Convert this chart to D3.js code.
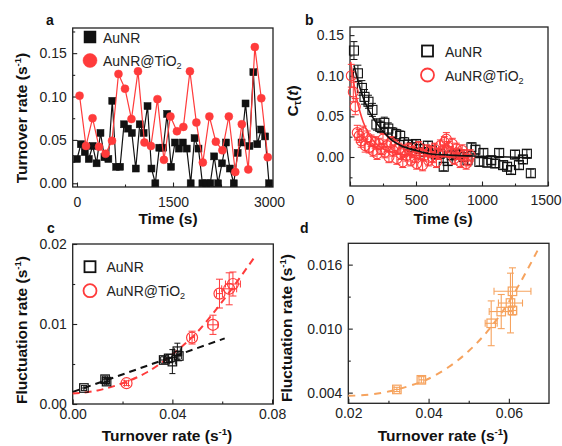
<!DOCTYPE html>
<html lang="en">
<head>
<meta charset="UTF-8">
<title>Turnover and fluctuation rates</title>
<script src="https://d3js.org/d3.v7.min.js"></script>
<style>
    body, html { margin: 0; padding: 0; background: #fff; }
    svg { display: block; font-family: 'Liberation Sans', Arial, sans-serif; }
    .tick text { font-size: 14px; fill: #222; }
    .tick line { stroke: #222; stroke-width: 1.1; }
</style>
</head>
<body>
<div id="chart"></div>
<script>
    // ---- panel a: turnover trajectories ----
    const aTimeAu = [0, 61, 122, 184, 245, 306, 367, 429, 490, 551, 612, 673, 735, 796, 857, 918, 980, 1041, 1102, 1163,
        1224, 1286, 1347, 1408, 1469, 1531, 1592, 1653, 1714, 1776, 1837, 1898, 1959, 2020, 2082, 2143, 2204, 2265, 2327, 2388,
        2449, 2510, 2571, 2633, 2694, 2755, 2816, 2878, 2939, 3000]
    const aRateAu = [0.028, 0.045, 0.036, 0.028, 0.043, 0.023, 0.058, 0.030, 0.028, 0.095,
        0.019, 0.019, 0.068, 0.063, 0.058, 0.017, 0.068, 0.058, 0.089, 0.017,
        0.000, 0.041, 0.041, 0.080, 0.019, 0.047, 0.040, 0.047, 0.040, 0.000,
        0.052, 0.040, 0.000, 0.000, 0.000, 0.031, 0.000, 0.023, 0.047, 0.017,
        0.000, 0.035, 0.047, 0.092, 0.043, 0.128, 0.045, 0.062, 0.054, 0.000]
    const aTimeTi = [40, 141, 243, 344, 446, 547, 648, 750, 851, 953, 1054, 1155, 1257, 1358, 1460,
        1561, 1662, 1764, 1865, 1966, 2068, 2169, 2271, 2372, 2473, 2575, 2676, 2778, 2879, 2980]
    const aRateTi = [0.101, 0.043, 0.075, 0.042, 0.034, 0.049, 0.126, 0.109, 0.074, 0.129,
        0.047, 0.043, 0.097, 0.027, 0.077, 0.060, 0.065, 0.129, 0.070, 0.024,
        0.077, 0.048, 0.038, 0.077, 0.013, 0.068, 0.016, 0.157, 0.098, 0.030]

    // ---- panel b: autocorrelation ----
    const bTimeAu = [30, 60, 90, 110, 140, 170, 200, 230, 260, 290, 320, 350, 380, 410, 440, 470, 500, 530, 560, 590,
        620, 650, 680, 710, 740, 770, 800, 830, 860, 890, 920, 950, 980, 1010, 1040, 1070, 1100, 1130, 1160, 1190,
        1220, 1250, 1280, 1310, 1340, 1370]
    const bCorrAu = [0.131, 0.103, 0.085, 0.074, 0.068, 0.058, 0.040, 0.037, 0.042, 0.035, 0.030, 0.028, 0.026, 0.018, 0.015,
        0.012, 0.016, 0.010, 0.006, 0.014, 0.008, 0.003, 0.004, -0.012, -0.005, 0.002, 0.004, 0.003, 0.000, -0.004,
        0.012, 0.009, -0.006, 0.005, -0.007, -0.004, -0.008, 0.005, -0.010, -0.012, -0.016, 0.003, -0.010, -0.003, 0.004, -0.020]
    const bErrAu = [0.011, 0.010, 0.009, 0.009, 0.008, 0.008, 0.007, 0.007, 0.007, 0.007, 0.006, 0.006, 0.006, 0.006, 0.006,
        0.005, 0.005, 0.005, 0.005, 0.005, 0.005, 0.005, 0.005, 0.005, 0.005, 0.005, 0.005, 0.005, 0.005, 0.005,
        0.005, 0.005, 0.005, 0.005, 0.005, 0.005, 0.005, 0.005, 0.005, 0.005, 0.005, 0.005, 0.005, 0.005, 0.005, 0.005]
    const bTimeTi = [10, 25, 40, 55, 70, 85, 100, 115, 130, 145, 160, 175, 190, 205, 220, 235, 250, 265, 280, 295,
        310, 325, 340, 355, 370, 385, 400, 415, 430, 445, 460, 475, 490, 505, 520, 535, 550, 565, 580, 595,
        610, 625, 640, 655, 670, 685, 700, 715, 730, 745, 760, 775, 790, 805, 820, 835, 850, 865, 880, 895, 910]
    const bCorrTi = [0.100, 0.080, 0.062, 0.030, 0.026, 0.020, 0.030, 0.014, 0.024, 0.012, 0.020, 0.008, 0.018, 0.004, 0.016,
        0.010, 0.022, 0.006, 0.014, 0.000, 0.018, 0.008, 0.014, -0.002, 0.010, 0.004, -0.006, 0.008, 0.002, 0.010,
        -0.004, 0.006, 0.000, -0.008, 0.012, 0.004, -0.010, 0.002, 0.008, -0.004, 0.006, 0.000, 0.010, -0.006, 0.004,
        0.014, 0.008, 0.018, 0.022, 0.012, 0.006, 0.016, -0.002, 0.010, 0.004, -0.006, 0.008, 0.002, -0.008, -0.004, 0.002]
    const bErrTi = [0.014, 0.012, 0.010, 0.009, 0.008, 0.008, 0.008, 0.008, 0.008, 0.007, 0.007, 0.007, 0.007, 0.007, 0.007,
        0.007, 0.007, 0.007, 0.007, 0.007, 0.007, 0.007, 0.007, 0.007, 0.007, 0.007, 0.007, 0.007, 0.007, 0.007,
        0.007, 0.007, 0.007, 0.007, 0.007, 0.007, 0.007, 0.007, 0.007, 0.007, 0.007, 0.007, 0.007, 0.007, 0.007,
        0.007, 0.007, 0.007, 0.008, 0.007, 0.007, 0.007, 0.007, 0.007, 0.007, 0.007, 0.007, 0.007, 0.007, 0.007, 0.007]
    // fitted decays
    const bFitAu = [[30, 0.113], [50, 0.100], [100, 0.073], [150, 0.055], [200, 0.042], [300, 0.023], [400, 0.013],
        [500, 0.008], [600, 0.004], [800, 0.002], [1000, 0.001], [1200, 0.000], [1370, -0.001]]
    const bFitTi = [[5, 0.117], [25, 0.095], [50, 0.072], [75, 0.056], [100, 0.043], [150, 0.026], [200, 0.016],
        [300, 0.007], [400, 0.003], [600, 0.001], [900, 0.000]]

    // ---- panel c: fluctuation vs turnover ----
    const cTurnAu = [0.0045, 0.0130, 0.0136, 0.0365, 0.0385, 0.0400, 0.0420, 0.0426]
    const cFluctAu = [0.0020, 0.0031, 0.0028, 0.0055, 0.0057, 0.0053, 0.0066, 0.0060]
    const cTurnErrAu = [0.0010, 0.0010, 0.0010, 0.0012, 0.0012, 0.0012, 0.0012, 0.0010]
    const cFluctErrAu = [0.0003, 0.0004, 0.0004, 0.0004, 0.0005, 0.0015, 0.0010, 0.0006]
    const cTurnTi = [0.0216, 0.0479, 0.0563, 0.0589, 0.0628, 0.0643]
    const cFluctTi = [0.0026, 0.0083, 0.0099, 0.0138, 0.0144, 0.0150]
    const cTurnErrTi = [0.0008, 0.0010, 0.0020, 0.0012, 0.0030, 0.0030]
    const cFluctErrTi = [0.0003, 0.0008, 0.0012, 0.0018, 0.0020, 0.0015]
    const cFitAu = [[0, 0.0015], [0.061, 0.0082]]
    const cFitTi = [[0, 0.0013], [0.01, 0.0017], [0.02, 0.0026], [0.03, 0.0040], [0.04, 0.0062], [0.05, 0.0090],
        [0.06, 0.0128], [0.0735, 0.0186]]

    // ---- panel d ----
    const dTurn = [0.0321, 0.0382, 0.0556, 0.0581, 0.0604, 0.0609, 0.0609]
    const dFluct = [0.0043, 0.0052, 0.0105, 0.0116, 0.0124, 0.0135, 0.0117]
    const dTurnErr = [0.0007, 0.0006, 0.0015, 0.0030, 0.0030, 0.0046, 0.0010]
    const dFluctErr = [0.0002, 0.0003, 0.0021, 0.0016, 0.0028, 0.0022, 0.0004]
    const dFit = [[0.02, 0.0037], [0.025, 0.0038], [0.03, 0.0041], [0.035, 0.0046], [0.04, 0.0053], [0.045, 0.0064],
        [0.05, 0.0079], [0.055, 0.0099], [0.06, 0.0125], [0.065, 0.0158], [0.0678, 0.0178]]

    const black = '#111', red = '#ff3b3b', orange = '#f6a35e'

    const svg = d3.select('#chart').append('svg').attr('width', 562).attr('height', 446)

    // text with sub/superscripts
    function rich(sel, parts, size) {
        parts.forEach(p => {
            const t = sel.append('tspan').text(p.t)
            if (p.sup) t.attr('font-size', size * 0.62).attr('baseline-shift', size * 0.4)
            if (p.sub) t.attr('font-size', size * 0.65).attr('baseline-shift', -size * 0.22)
            if (p.it) t.attr('font-style', 'italic')
        })
        return sel
    }

    function panel(box, xDom, yDom, o) {
        const x = d3.scaleLinear().domain(xDom).range([box.x0, box.x1])
        const y = d3.scaleLinear().domain(yDom).range([box.y1, box.y0])
        const g = svg.append('g')

        g.append('g').attr('transform', `translate(0,${box.y1})`)
            .call(d3.axisBottom(x).tickValues(o.xMinor).tickSize(-2.5).tickFormat(''))
            .select('.domain').remove()
        const xa = g.append('g').attr('transform', `translate(0,${box.y1})`)
            .call(d3.axisBottom(x).tickValues(o.xMajor).tickSize(-4.5).tickPadding(o.xPad).tickFormat(o.xFmt))
        xa.select('.domain').remove()
        if (o.lastDx) xa.selectAll('.tick:last-of-type text').attr('dx', o.lastDx)
        g.append('g').attr('transform', `translate(${box.x0},0)`)
            .call(d3.axisLeft(y).tickValues(o.yMinor).tickSize(-2.5).tickFormat(''))
            .select('.domain').remove()
        g.append('g').attr('transform', `translate(${box.x0},0)`)
            .call(d3.axisLeft(y).tickValues(o.yMajor).tickSize(-4.5).tickPadding(6).tickFormat(o.yFmt))
            .select('.domain').remove()

        g.append('rect')
            .attr('x', box.x0).attr('y', box.y0)
            .attr('width', box.x1 - box.x0).attr('height', box.y1 - box.y0)
            .attr('fill', 'none').attr('stroke', '#222').attr('stroke-width', 1.3)

        const plot = svg.append('g')
        return { x, y, g, plot }
    }

    function errBars(plot, xs, ys, x, y, opt) {
        const cap = opt.cap || 3
        xs.forEach((xv, i) => {
            const px = x(xv), py = y(ys[i])
            if (opt.ye) {
                const y1 = y(ys[i] - opt.ye[i]), y2 = y(ys[i] + opt.ye[i])
                plot.append('line').attr('x1', px).attr('x2', px).attr('y1', y1).attr('y2', y2)
                    .attr('stroke', opt.color).attr('stroke-width', opt.w || 1)
                plot.append('line').attr('x1', px - cap).attr('x2', px + cap).attr('y1', y1).attr('y2', y1)
                    .attr('stroke', opt.color).attr('stroke-width', opt.w || 1)
                plot.append('line').attr('x1', px - cap).attr('x2', px + cap).attr('y1', y2).attr('y2', y2)
                    .attr('stroke', opt.color).attr('stroke-width', opt.w || 1)
            }
            if (opt.xe) {
                const x1 = x(xv - opt.xe[i]), x2 = x(xv + opt.xe[i])
                plot.append('line').attr('x1', x1).attr('x2', x2).attr('y1', py).attr('y2', py)
                    .attr('stroke', opt.color).attr('stroke-width', opt.w || 1)
                plot.append('line').attr('x1', x1).attr('x2', x1).attr('y1', py - cap).attr('y2', py + cap)
                    .attr('stroke', opt.color).attr('stroke-width', opt.w || 1)
                plot.append('line').attr('x1', x2).attr('x2', x2).attr('y1', py - cap).attr('y2', py + cap)
                    .attr('stroke', opt.color).attr('stroke-width', opt.w || 1)
            }
        })
    }

    function squares(plot, xs, ys, x, y, size, style) {
        plot.selectAll(null).data(xs).enter().append('rect')
            .attr('x', (d, i) => x(d) - size / 2).attr('y', (d, i) => y(ys[i]) - size / 2)
            .attr('width', size).attr('height', size)
            .attr('fill', style.fill || 'none').attr('stroke', style.stroke).attr('stroke-width', style.w || 1.2)
    }

    function circles(plot, xs, ys, x, y, r, style) {
        plot.selectAll(null).data(xs).enter().append('circle')
            .attr('cx', d => x(d)).attr('cy', (d, i) => y(ys[i])).attr('r', r)
            .attr('fill', style.fill || 'none').attr('stroke', style.stroke).attr('stroke-width', style.w || 1.2)
    }

    function legend(items, x0, sq, r) {
        items.forEach(it => {
            if (it.shape === 'square') {
                svg.append('rect').attr('x', x0 - sq / 2).attr('y', it.y - sq / 2).attr('width', sq).attr('height', sq)
                    .attr('fill', it.fill || 'none').attr('stroke', it.color).attr('stroke-width', it.w)
            } else {
                svg.append('circle').attr('cx', x0).attr('cy', it.y).attr('r', r)
                    .attr('fill', it.fill || 'none').attr('stroke', it.color).attr('stroke-width', it.w)
            }
            const t = svg.append('text').attr('x', it.tx).attr('y', it.y + 5.5)
                .attr('font-size', 14).attr('fill', '#222')
            rich(t, it.label, 14)
        })
    }

    function label(x, y, parts, rotate, size) {
        const t = svg.append('text')
            .attr('transform', `translate(${x},${y})` + (rotate ? ' rotate(-90)' : ''))
            .attr('text-anchor', 'middle').attr('font-weight', 'bold').attr('font-size', size).attr('fill', '#111')
        rich(t, parts, size)
    }

    const lab1 = [{ t: 'AuNR' }]
    const lab2 = [{ t: 'AuNR@TiO' }, { t: '2', sub: true }]
    const rateUnit = name => [{ t: name + ' (s' }, { t: '-1', sup: true }, { t: ')' }]
    const f2 = d3.format('.2f')

    // ---------- a ----------
    const A = panel({ x0: 72.7, x1: 273, y0: 28, y1: 187 }, [-67, 3062], [-0.0043, 0.179], {
        xMajor: [0, 1500, 3000], xMinor: [750, 2250], xFmt: d3.format('d'), xPad: 10,
        yMajor: [0, 0.05, 0.10, 0.15], yMinor: [0.025, 0.075, 0.125, 0.175], yFmt: f2
    })
    const lineA = (xs, ys) => d3.line().x((d, i) => A.x(d)).y((d, i) => A.y(ys[i]))(xs)
    A.plot.append('path').attr('d', lineA(aTimeAu, aRateAu)).attr('fill', 'none').attr('stroke', black).attr('stroke-width', 1.2)
    squares(A.plot, aTimeAu, aRateAu, A.x, A.y, 7, { fill: black, stroke: black, w: 0.5 })
    A.plot.append('path').attr('d', lineA(aTimeTi, aRateTi)).attr('fill', 'none').attr('stroke', red).attr('stroke-width', 1.2)
    circles(A.plot, aTimeTi, aRateTi, A.x, A.y, 4, { fill: red, stroke: red, w: 0.5 })
    legend([
        { shape: 'square', y: 37, color: black, fill: black, w: 0.5, tx: 103, label: lab1 },
        { shape: 'circle', y: 60.5, color: red, fill: red, w: 0.5, tx: 103, label: lab2 }
    ], 90, 12, 7)

    // ---------- b ----------
    const B = panel({ x0: 350, x1: 548, y0: 27, y1: 186 }, [0, 1500], [-0.0357, 0.160], {
        xMajor: [0, 500, 1000, 1500], xMinor: [250, 750, 1250], xFmt: d3.format('d'), xPad: 9, lastDx: -2.5,
        yMajor: [0, 0.05, 0.10, 0.15], yMinor: [-0.025, 0.025, 0.075, 0.125], yFmt: f2
    })
    errBars(B.plot, bTimeAu, bCorrAu, B.x, B.y, { ye: bErrAu, color: black, cap: 3.5, w: 1 })
    squares(B.plot, bTimeAu, bCorrAu, B.x, B.y, 9, { stroke: black, w: 1.1 })
    errBars(B.plot, bTimeTi, bCorrTi, B.x, B.y, { ye: bErrTi, color: red, cap: 3.5, w: 1 })
    circles(B.plot, bTimeTi, bCorrTi, B.x, B.y, 5, { stroke: red, w: 1.1 })
    const fitLineB = d3.line().curve(d3.curveMonotoneX).x(d => B.x(d[0])).y(d => B.y(d[1]))
    B.plot.append('path').attr('d', fitLineB(bFitTi)).attr('fill', 'none').attr('stroke', red).attr('stroke-width', 1.6)
    B.plot.append('path').attr('d', fitLineB(bFitAu)).attr('fill', 'none').attr('stroke', black).attr('stroke-width', 1.6)
    legend([
        { shape: 'square', y: 51, color: black, w: 1.8, tx: 445, label: lab1 },
        { shape: 'circle', y: 75, color: red, w: 1.8, tx: 445, label: lab2 }
    ], 427.5, 11, 6.5)

    // ---------- c ----------
    const C = panel({ x0: 72.7, x1: 273.3, y0: 244, y1: 404 }, [0, 0.0805], [0, 0.02], {
        xMajor: [0, 0.04, 0.08], xMinor: [0.02, 0.06], xFmt: f2, xPad: 5,
        yMajor: [0, 0.01, 0.02], yMinor: [0.005, 0.015], yFmt: f2
    })
    const fitLineC = d3.line().curve(d3.curveMonotoneX).x(d => C.x(d[0])).y(d => C.y(d[1]))
    C.plot.append('path').attr('d', fitLineC(cFitAu)).attr('fill', 'none').attr('stroke', black)
        .attr('stroke-width', 2).attr('stroke-dasharray', '7,5')
    C.plot.append('path').attr('d', fitLineC(cFitTi)).attr('fill', 'none').attr('stroke', red)
        .attr('stroke-width', 2).attr('stroke-dasharray', '7,5')
    errBars(C.plot, cTurnAu, cFluctAu, C.x, C.y, { xe: cTurnErrAu, ye: cFluctErrAu, color: black, cap: 3, w: 1 })
    squares(C.plot, cTurnAu, cFluctAu, C.x, C.y, 8.5, { stroke: black, w: 1.2 })
    errBars(C.plot, cTurnTi, cFluctTi, C.x, C.y, { xe: cTurnErrTi, ye: cFluctErrTi, color: red, cap: 3.5, w: 1 })
    circles(C.plot, cTurnTi, cFluctTi, C.x, C.y, 5.5, { stroke: red, w: 1.2 })
    legend([
        { shape: 'square', y: 266.7, color: black, w: 1.8, tx: 106.5, label: lab1 },
        { shape: 'circle', y: 290.7, color: red, w: 1.8, tx: 106.5, label: lab2 }
    ], 90, 11, 6.5)

    // ---------- d ----------
    const D = panel({ x0: 348.3, x1: 549, y0: 243.3, y1: 403.3 }, [0.02, 0.07], [0.003, 0.018], {
        xMajor: [0.02, 0.04, 0.06], xMinor: [0.03, 0.05], xFmt: f2, xPad: 5,
        yMajor: [0.004, 0.010, 0.016], yMinor: [0.007, 0.013], yFmt: d3.format('.3f')
    })
    const fitLineD = d3.line().curve(d3.curveMonotoneX).x(d => D.x(d[0])).y(d => D.y(d[1]))
    D.plot.append('path').attr('d', fitLineD(dFit)).attr('fill', 'none').attr('stroke', orange)
        .attr('stroke-width', 2).attr('stroke-dasharray', '7,6')
    errBars(D.plot, dTurn, dFluct, D.x, D.y, { xe: dTurnErr, ye: dFluctErr, color: orange, cap: 3.5, w: 1.1 })
    squares(D.plot, dTurn, dFluct, D.x, D.y, 8.5, { stroke: orange, w: 1.2 })

    // ---------- labels ----------
    const boldLetter = (x, y, s) => svg.append('text').attr('x', x).attr('y', y).attr('font-weight', 'bold')
        .attr('font-size', 14).attr('fill', '#111').text(s)
    boldLetter(46, 25, 'a'); boldLetter(305, 25, 'b'); boldLetter(47, 233, 'c'); boldLetter(300, 233, 'd')

    label(168, 224, [{ t: 'Time (s)' }], false, 15.5)
    label(443, 224, [{ t: 'Time (s)' }], false, 15.5)
    label(27, 118, rateUnit('Turnover rate'), true, 15.5)
    label(298, 101, [{ t: 'C' }, { t: 'τ', sub: true }, { t: '(' }, { t: 't', it: true }, { t: ')' }], true, 15.5)
    label(167, 441, rateUnit('Turnover rate'), false, 15.5)
    label(443, 441, rateUnit('Turnover rate'), false, 15.5)
    label(27, 330, rateUnit('Fluctuation rate'), true, 15.5)
    label(292, 328, rateUnit('Fluctuation rate'), true, 15.5)
</script>
</body>
</html>
